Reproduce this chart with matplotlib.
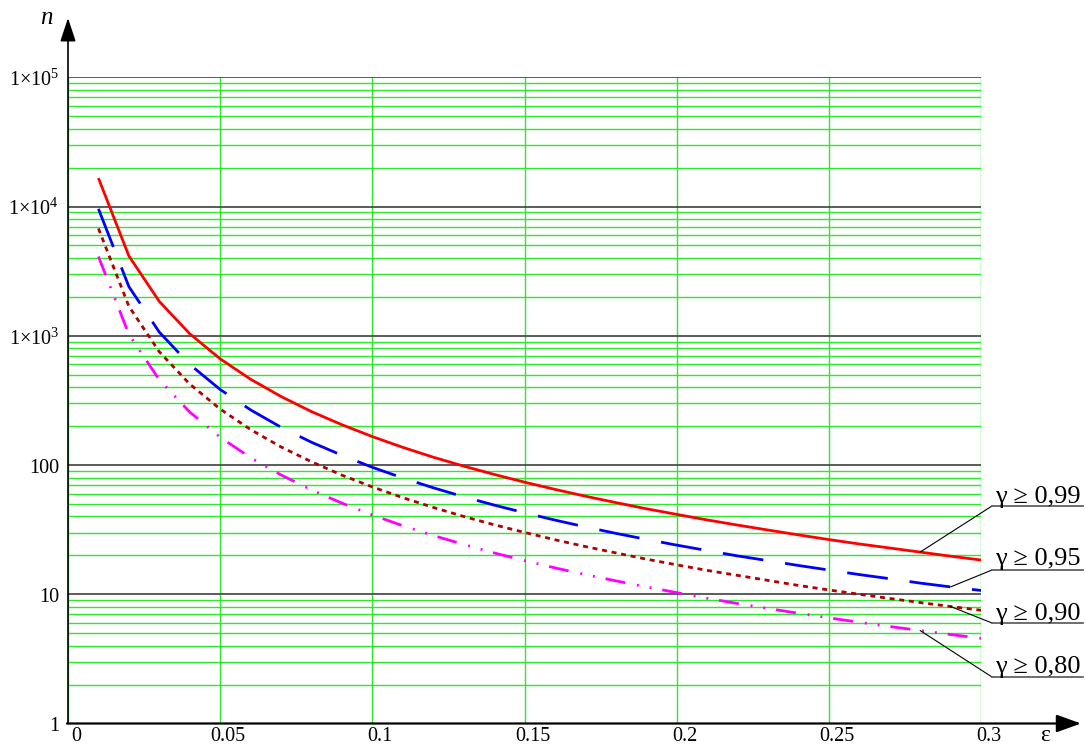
import matplotlib
matplotlib.use('Agg')
import matplotlib.pyplot as plt
from matplotlib import transforms
from matplotlib.lines import Line2D
from matplotlib.ticker import LogLocator, NullFormatter

# ---------------- data ----------------
eps = [0.01, 0.02, 0.03, 0.04, 0.05, 0.06, 0.07, 0.08, 0.09, 0.10,
       0.11, 0.12, 0.13, 0.14, 0.15, 0.16, 0.17, 0.18, 0.19, 0.20,
       0.21, 0.22, 0.23, 0.24, 0.25, 0.26, 0.27, 0.28, 0.29, 0.30]

n_099 = [16600, 4147, 1843, 1037, 663, 461, 339, 259, 205, 166,
         137, 115, 98.1, 84.6, 73.7, 64.8, 57.4, 51.2, 45.9, 41.5,
         37.6, 34.3, 31.4, 28.8, 26.5, 24.5, 22.8, 21.2, 19.7, 18.4]

n_095 = [9604, 2401, 1067, 600, 384, 267, 196, 150, 119, 96.0,
         79.4, 66.7, 56.8, 49.0, 42.7, 37.5, 33.2, 29.6, 26.6, 24.0,
         21.8, 19.8, 18.2, 16.7, 15.4, 14.2, 13.2, 12.2, 11.4, 10.7]

n_090 = [6765, 1691, 752, 423, 271, 188, 138, 106, 83.5, 67.7,
         55.9, 47.0, 40.0, 34.5, 30.1, 26.4, 23.4, 20.9, 18.7, 16.9,
         15.3, 14.0, 12.8, 11.7, 10.8, 10.0, 9.28, 8.63, 8.04, 7.52]

n_080 = [4106, 1027, 456, 257, 164, 114, 83.8, 64.2, 50.7, 41.1,
         33.9, 28.5, 24.3, 20.9, 18.2, 16.0, 14.2, 12.7, 11.4, 10.3,
         9.31, 8.48, 7.76, 7.13, 6.57, 6.07, 5.63, 5.24, 4.88, 4.56]

gamma_labels = ['γ ≥ 0,99', 'γ ≥ 0,95', 'γ ≥ 0,90', 'γ ≥ 0,80']
x_ticks = [0, 0.05, 0.1, 0.15, 0.2, 0.25, 0.3]
x_tick_labels = ['0', '0.05', '0.1', '0.15', '0.2', '0.25', '0.3']
y_ticks = [1, 10, 100, 1e3, 1e4, 1e5]
y_tick_labels = ['1', '10', '100', r'$1{\times}10^{3}$', r'$1{\times}10^{4}$', r'$1{\times}10^{5}$']

# ---------------- style ----------------
plt.rcParams['font.family'] = ['Liberation Serif', 'DejaVu Serif']
plt.rcParams['mathtext.fontset'] = 'custom'
plt.rcParams['mathtext.rm'] = 'Liberation Serif'
plt.rcParams['mathtext.it'] = 'Liberation Serif:italic'
plt.rcParams['lines.scale_dashes'] = False

W, H = 1086, 747
fig = plt.figure(figsize=(W / 100, H / 100), dpi=100)


def fx(px):
    return px / W


def fy(py):
    return 1 - py / H


ax = fig.add_axes([fx(68), fy(723.5), fx(981) - fx(68), fy(77.3) - fy(723.5)])
ax.set_yscale('log')
ax.set_xlim(0, 0.3)
ax.set_ylim(1, 1e5)
for s in ax.spines.values():
    s.set_visible(False)

ax.set_xticks(x_ticks)
ax.set_yticks(y_ticks)
ax.yaxis.set_minor_locator(LogLocator(base=10, subs=range(2, 10), numticks=20))
ax.yaxis.set_minor_formatter(NullFormatter())
ax.tick_params(which='both', length=0, labelbottom=False, labelleft=False)
ax.set_axisbelow(True)

green = '#2ee82e'
ax.yaxis.grid(True, which='minor', color=green, lw=1.0)
ax.yaxis.grid(True, which='major', color='#404040', lw=1.2)
ax.xaxis.grid(True, which='major', color=green, lw=1.0)

# ---------------- curves ----------------
ax.plot(eps, n_099, color='#ff0000', lw=2.0, solid_capstyle='butt', zorder=3)
ax.plot(eps, n_095, color='#0000ff', lw=2.0, dashes=(29.5, 15.8), dash_capstyle='butt', zorder=3)
ax.plot(eps, n_090, color='#b00000', lw=2.0, dashes=(3.6, 3.4), dash_capstyle='butt', zorder=3)
ax.plot(eps, n_080, color='#ff00ff', lw=2.0,
        dashes=(14.4, 8.6, 1.4, 7.9, 1.4, 7.9), dash_capstyle='butt', zorder=3)

# ---------------- tick labels ----------------
xlab_tr = transforms.offset_copy(ax.get_xaxis_transform(), fig, x=8, y=-17.5, units='dots')
for xv, lab in zip(x_ticks, x_tick_labels):
    ax.text(xv, 0, lab, transform=xlab_tr, ha='center', va='baseline', fontsize=14.5, clip_on=False)

ylab_tr = transforms.offset_copy(ax.get_yaxis_transform(), fig, x=-9, y=-3, units='dots')
for yv, lab in zip(y_ticks, y_tick_labels):
    ax.text(0, yv, lab, transform=ylab_tr, ha='right', va='center', fontsize=14.5, clip_on=False)

# ---------------- axes with arrows ----------------
ax.annotate('', xy=(68, H - 18), xytext=(68, H - 723.5),
            xycoords='figure pixels', textcoords='figure pixels',
            arrowprops=dict(arrowstyle='-|>,head_length=1.0,head_width=0.33',
                            mutation_scale=14.4, lw=1.2, color='black',
                            shrinkA=0, shrinkB=0))
ax.annotate('', xy=(1081, H - 723.5), xytext=(67, H - 723.5),
            xycoords='figure pixels', textcoords='figure pixels',
            arrowprops=dict(arrowstyle='-|>,head_length=1.0,head_width=0.36',
                            mutation_scale=15, lw=1.6, color='black',
                            shrinkA=0, shrinkB=0))
fig.text(fx(46), fy(18), 'n', style='italic', fontsize=18, ha='center', va='center')
fig.text(fx(1045), fy(741), 'ε', fontsize=17, ha='center', va='baseline')

# ---------------- gamma labels with leaders ----------------
series = [n_099, n_095, n_090, n_080]
leader_idx = [27, 28, 28, 27]
underline_y = [506, 570, 623, 677]
text_y = [503, 565, 620, 673]
for ser, idx, uy, ty, lab in zip(series, leader_idx, underline_y, text_y, gamma_labels):
    ax.annotate('', xy=(eps[idx], ser[idx]), xycoords='data',
                xytext=(992, H - uy), textcoords='figure pixels',
                arrowprops=dict(arrowstyle='-', lw=0.8, color='black',
                                shrinkA=0, shrinkB=0), zorder=4)
    fig.add_artist(Line2D([fx(992), fx(1083)], [fy(uy), fy(uy)],
                          transform=fig.transFigure, color='#555555', lw=1.2))
    fig.text(fx(1038), fy(ty), lab, ha='center', va='baseline', fontsize=19)

fig.savefig('out.png', dpi=100)
